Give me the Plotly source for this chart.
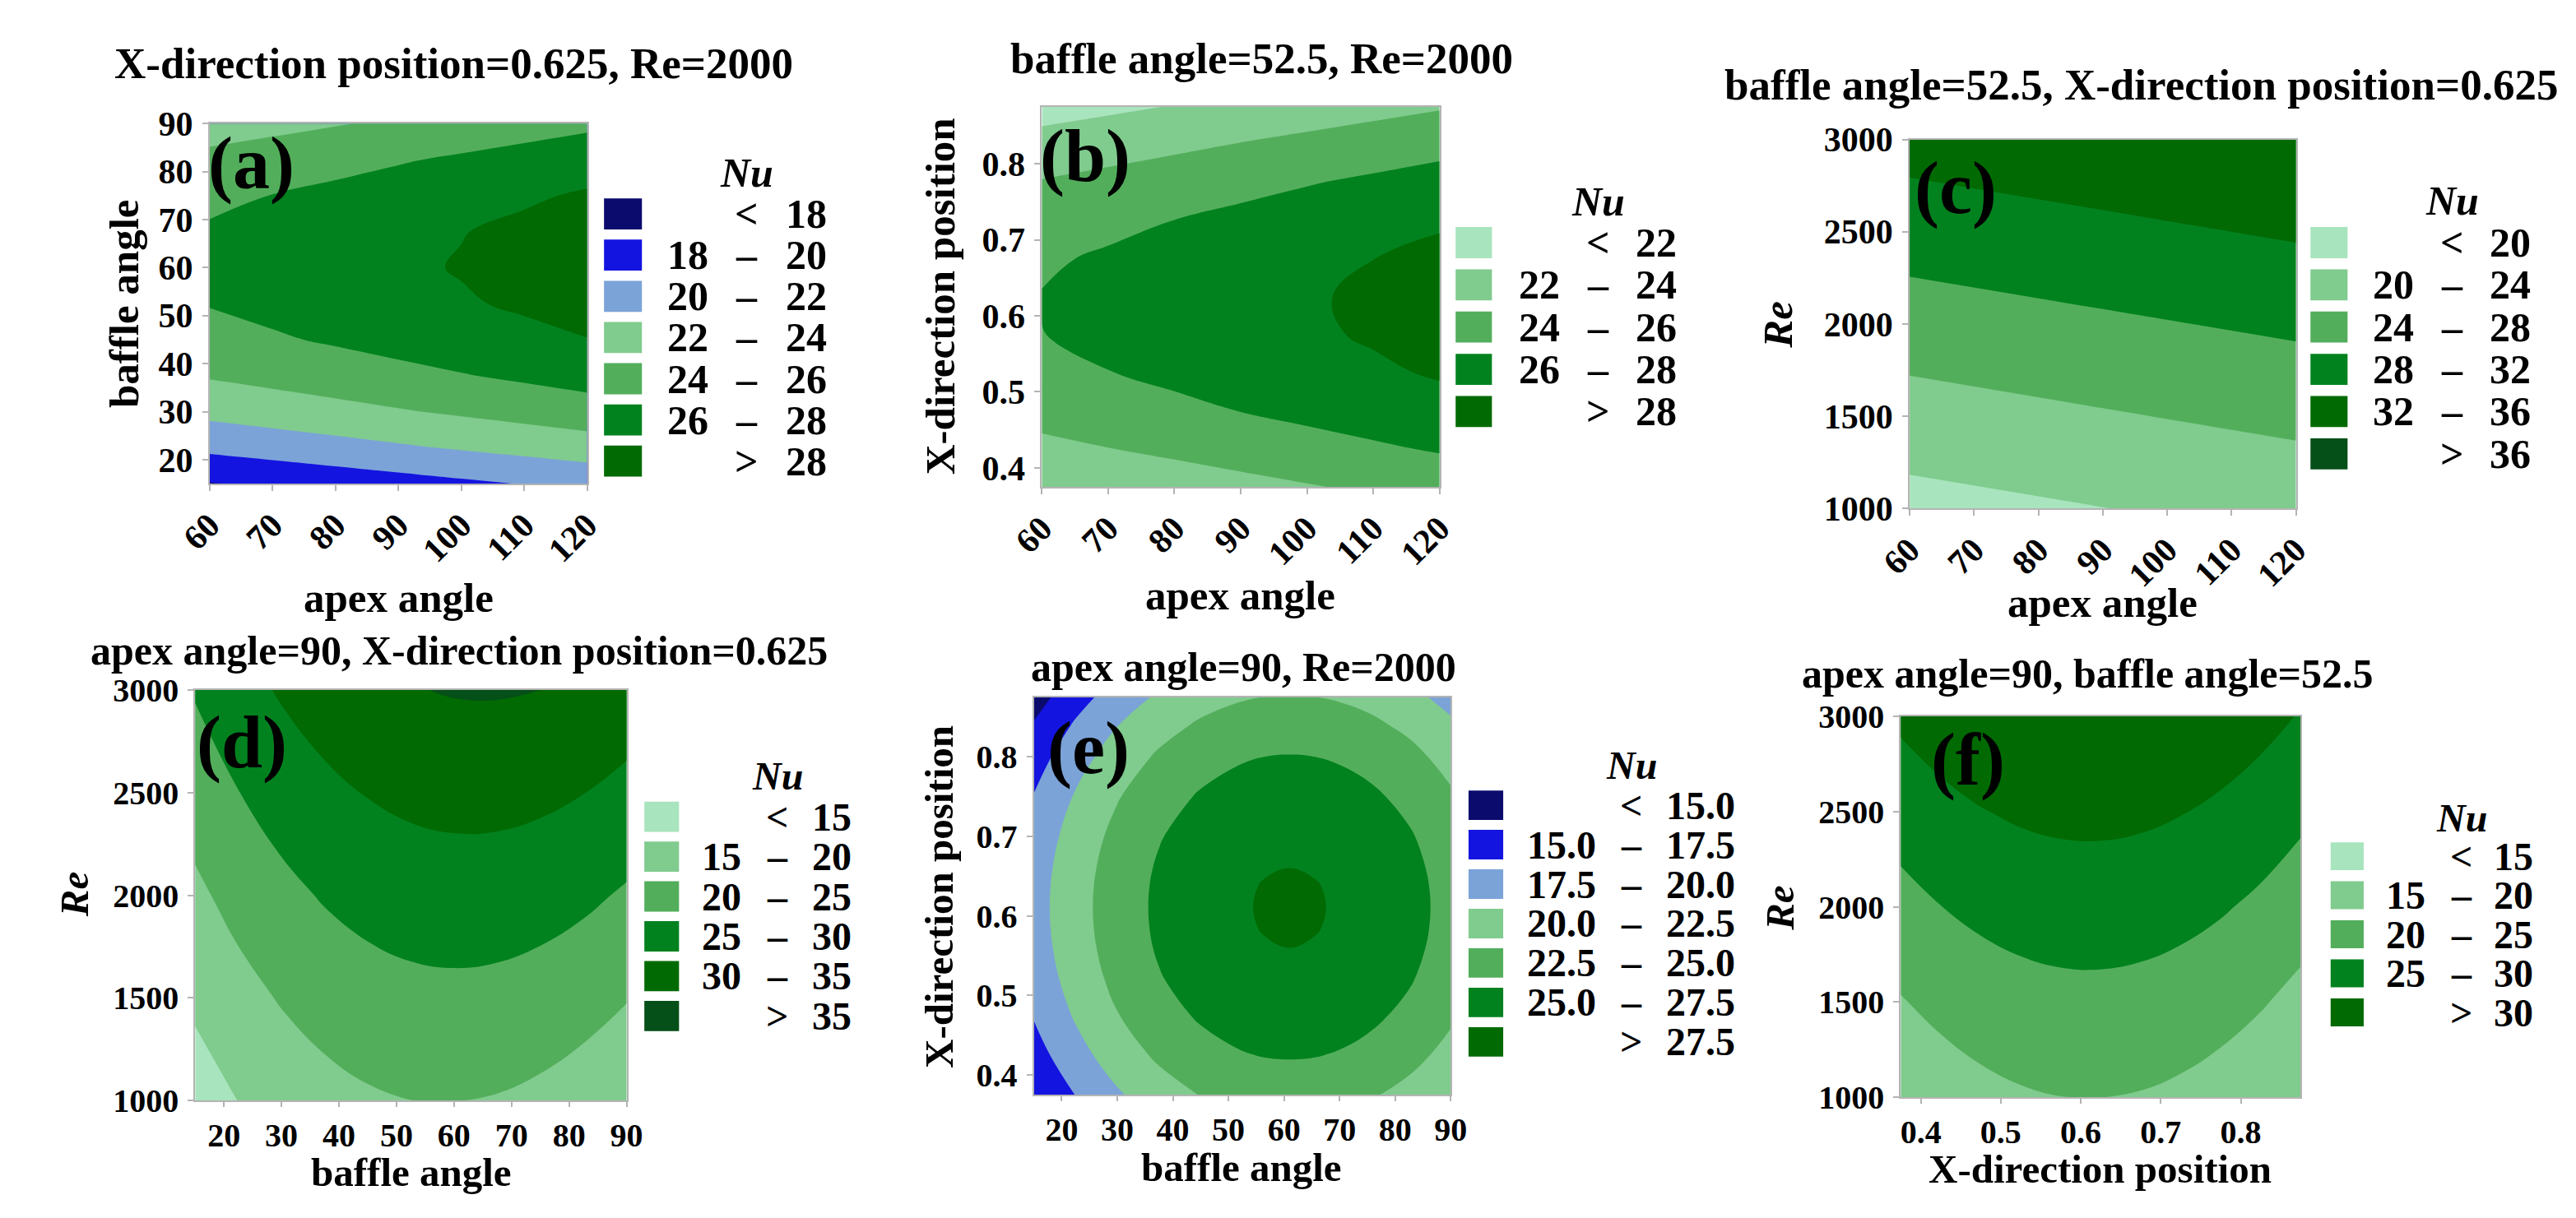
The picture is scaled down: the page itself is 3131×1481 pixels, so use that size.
import plotly.graph_objects as go

W, H = 3131, 1481
SERIF = "Liberation Serif, Times New Roman, serif"

# ---------------- values ----------------
apex_angle = [60, 70, 80, 90, 100, 110, 120]
apex_angle_c = [60, 90, 120]
baffle_angle = [15, 22.5, 30, 37.5, 45, 52.5, 60, 67.5, 75, 82.5, 90]
baffle_angle_e = [15, 22.5, 30, 37.5, 45, 52, 56, 61, 66, 70, 75, 82.5, 90]
x_position = [0.375, 0.425, 0.475, 0.525, 0.575, 0.625, 0.675, 0.725, 0.775, 0.825, 0.875]
x_position_e = [0.375, 0.425, 0.475, 0.52, 0.56, 0.585, 0.611, 0.637, 0.66, 0.70, 0.75, 0.80, 0.84, 0.875]
reynolds = [1000, 1500, 2000, 2500, 3000]

# (a) rows = baffle angle, cols = apex angle
nu_a = [
    [17.92, 18.35, 18.78, 19.22, 19.65, 20.08, 20.52],
    [20.45, 20.88, 21.31, 21.75, 22.18, 22.61, 23.05],
    [22.54, 22.97, 23.40, 23.84, 24.27, 24.70, 25.14],
    [24.17, 24.60, 25.03, 25.47, 25.90, 26.33, 26.77],
    [25.36, 25.79, 26.22, 26.66, 27.09, 27.52, 27.96],
    [26.09, 26.52, 26.95, 27.39, 27.82, 28.25, 28.69],
    [26.38, 26.81, 27.24, 27.68, 28.11, 28.54, 28.98],
    [26.21, 26.64, 27.07, 27.51, 27.94, 28.37, 28.81],
    [25.60, 26.03, 26.46, 26.90, 27.33, 27.76, 28.20],
    [24.53, 24.96, 25.39, 25.83, 26.26, 26.69, 27.13],
    [23.02, 23.45, 23.88, 24.32, 24.75, 25.18, 25.62],
]
# (b) rows = X-direction position, cols = apex angle
nu_b = [
    [22.10, 22.54, 22.98, 23.43, 23.87, 24.31, 24.75],
    [23.52, 23.96, 24.40, 24.85, 25.29, 25.73, 26.17],
    [24.70, 25.14, 25.58, 26.03, 26.47, 26.91, 27.35],
    [25.52, 25.96, 26.40, 26.85, 27.29, 27.73, 28.17],
    [25.97, 26.41, 26.85, 27.30, 27.74, 28.18, 28.62],
    [26.06, 26.50, 26.94, 27.39, 27.83, 28.27, 28.71],
    [25.78, 26.22, 26.66, 27.11, 27.55, 27.99, 28.43],
    [25.14, 25.58, 26.02, 26.47, 26.91, 27.35, 27.79],
    [24.13, 24.57, 25.01, 25.46, 25.90, 26.34, 26.78],
    [22.76, 23.20, 23.64, 24.09, 24.53, 24.97, 25.41],
    [21.20, 21.64, 22.08, 22.53, 22.97, 23.41, 23.85],
]
# (c) rows = Re, cols = apex angle
nu_c = [
    [18.64, 19.95, 21.26],
    [22.37, 23.68, 24.99],
    [26.09, 27.40, 28.71],
    [29.82, 31.13, 32.44],
    [33.54, 34.85, 35.90],
]
# (d) rows = Re, cols = baffle angle
nu_d = [
    [12.70, 15.06, 16.96, 18.42, 19.42, 19.98, 20.08, 19.74, 18.94, 17.70, 16.00],
    [15.89, 18.35, 20.36, 21.92, 23.03, 23.69, 23.90, 23.66, 22.97, 21.83, 20.24],
    [19.05, 21.62, 23.73, 25.40, 26.61, 27.38, 27.69, 27.56, 26.97, 25.94, 24.45],
    [22.24, 24.91, 27.13, 28.90, 30.22, 31.09, 31.51, 31.48, 31.00, 30.07, 28.69],
    [25.40, 28.17, 30.50, 32.37, 33.80, 34.77, 35.30, 35.37, 35.00, 34.17, 32.90],
]
# (e) rows = X-direction position, cols = baffle angle
nu_e = [
    [14.95, 17.55, 19.69, 21.37, 22.58, 23.30, 23.53, 23.63, 23.53, 23.30, 22.83, 21.74, 20.18],
    [16.49, 19.09, 21.23, 22.91, 24.12, 24.84, 25.07, 25.17, 25.07, 24.84, 24.37, 23.28, 21.72],
    [17.66, 20.26, 22.40, 24.08, 25.29, 26.01, 26.24, 26.34, 26.24, 26.01, 25.54, 24.45, 22.89],
    [18.41, 21.01, 23.15, 24.83, 26.04, 26.76, 26.99, 27.09, 26.99, 26.76, 26.29, 25.20, 23.64],
    [18.82, 21.42, 23.56, 25.24, 26.45, 27.17, 27.40, 27.50, 27.40, 27.17, 26.70, 25.61, 24.05],
    [18.96, 21.56, 23.70, 25.38, 26.59, 27.31, 27.54, 27.64, 27.54, 27.31, 26.84, 25.75, 24.19],
    [19.01, 21.61, 23.75, 25.43, 26.64, 27.36, 27.59, 27.69, 27.59, 27.36, 26.89, 25.80, 24.24],
    [18.96, 21.56, 23.70, 25.38, 26.59, 27.31, 27.54, 27.64, 27.54, 27.31, 26.84, 25.75, 24.19],
    [18.83, 21.43, 23.57, 25.25, 26.46, 27.18, 27.41, 27.51, 27.41, 27.18, 26.71, 25.62, 24.06],
    [18.43, 21.03, 23.17, 24.85, 26.06, 26.78, 27.01, 27.11, 27.01, 26.78, 26.31, 25.22, 23.66],
    [17.60, 20.20, 22.34, 24.02, 25.23, 25.95, 26.18, 26.28, 26.18, 25.95, 25.48, 24.39, 22.83],
    [16.41, 19.01, 21.15, 22.83, 24.04, 24.76, 24.99, 25.09, 24.99, 24.76, 24.29, 23.20, 21.64],
    [15.19, 17.79, 19.93, 21.61, 22.82, 23.54, 23.77, 23.87, 23.77, 23.54, 23.07, 21.98, 20.42],
    [13.93, 16.53, 18.67, 20.35, 21.56, 22.28, 22.51, 22.61, 22.51, 22.28, 21.81, 20.72, 19.16],
]
# (f) rows = Re, cols = X-direction position
nu_f = [
    [16.02, 17.55, 18.72, 19.52, 19.96, 20.03, 19.74, 19.08, 18.06, 16.68, 15.10],
    [19.72, 21.25, 22.42, 23.22, 23.66, 23.73, 23.44, 22.78, 21.76, 20.38, 18.62],
    [23.42, 24.95, 26.12, 26.92, 27.36, 27.43, 27.14, 26.48, 25.46, 24.08, 22.32],
    [27.12, 28.65, 29.82, 30.62, 31.06, 31.13, 30.84, 30.18, 29.16, 27.78, 26.02],
    [30.82, 32.35, 33.52, 34.32, 34.76, 34.83, 34.54, 33.88, 32.86, 31.48, 29.72],
]

levels_a = [18, 20, 22, 24, 26, 28]
levels_b = [22, 24, 26, 28]
levels_c = [20, 24, 28, 32, 36]
levels_d = [15, 20, 25, 30, 35]
levels_e = [15.0, 17.5, 20.0, 22.5, 25.0, 27.5]
levels_f = [15, 20, 25, 30]

apex_ticks = [60, 70, 80, 90, 100, 110, 120]
baffle_ticks = [20, 30, 40, 50, 60, 70, 80, 90]
xpos_ticks = [0.4, 0.5, 0.6, 0.7, 0.8]
re_ticks = [1000, 1500, 2000, 2500, 3000]

titles = ["X-direction position=0.625, Re=2000", "baffle angle=52.5, Re=2000",
          "baffle angle=52.5, X-direction position=0.625",
          "apex angle=90, X-direction position=0.625", "apex angle=90, Re=2000",
          "apex angle=90, baffle angle=52.5"]
panel_tags = ["(a)", "(b)", "(c)", "(d)", "(e)", "(f)"]

# ---------------- styles ----------------
NAVY, BLUE, STEEL = "#0b0b6e", "#1414e0", "#7ba3d8"
MINT, LGREEN, MGREEN = "#a8e4bd", "#80cb8e", "#53ae5b"
GREEN, DGREEN, DDGREEN = "#02821f", "#016a02", "#054f18"
blue_green = [NAVY, BLUE, STEEL, LGREEN, MGREEN, GREEN, DGREEN]
greens5 = [MINT, LGREEN, MGREEN, GREEN, DGREEN]
greens6 = [MINT, LGREEN, MGREEN, GREEN, DGREEN, DDGREEN]

panels = [
    dict(x=apex_angle, y=baffle_angle, z=nu_a, lv=levels_a, col=blue_green,
         xt="apex angle", yt="baffle angle", xticks=apex_ticks, yticks=baffle_ticks,
         xr=[60, 120], yr=[15, 90], rot=True, dec=0),
    dict(x=apex_angle, y=x_position, z=nu_b, lv=levels_b, col=greens5,
         xt="apex angle", yt="X-direction position", xticks=apex_ticks, yticks=xpos_ticks,
         xr=[60, 120], yr=[0.375, 0.875], rot=True, dec=0),
    dict(x=apex_angle_c, y=reynolds, z=nu_c, lv=levels_c, col=greens6,
         xt="apex angle", yt="<i>Re</i>", xticks=apex_ticks, yticks=re_ticks,
         xr=[60, 120], yr=[1000, 3000], rot=True, dec=0),
    dict(x=baffle_angle, y=reynolds, z=nu_d, lv=levels_d, col=greens6,
         xt="baffle angle", yt="<i>Re</i>", xticks=baffle_ticks, yticks=re_ticks,
         xr=[15, 90], yr=[1000, 3000], rot=False, dec=0),
    dict(x=baffle_angle_e, y=x_position_e, z=nu_e, lv=levels_e, col=blue_green,
         xt="baffle angle", yt="X-direction position", xticks=baffle_ticks, yticks=xpos_ticks,
         xr=[15, 90], yr=[0.375, 0.875], rot=False, dec=1),
    dict(x=x_position, y=reynolds, z=nu_f, lv=levels_f, col=greens5,
         xt="X-direction position", yt="<i>Re</i>", xticks=xpos_ticks, yticks=re_ticks,
         xr=[0.375, 0.875], yr=[1000, 3000], rot=False, dec=0),
]

# pixel geometry of each panel (plot box, text centres, legend)
geo = [
    dict(box=(210, 124, 678, 576), title=(513, 48, 53), xt=(444, 719, 51), yt=(104, 350, 51),
         tag=(262, 174), tick=42, leg=(699, 218, 51.7, 47, 39, 830, 876, 977, 50, 186)),
    dict(box=(1242, 103, 1735, 580), title=(1514, 42, 53), xt=(1488, 716, 51), yt=(1117, 341, 51),
         tag=(1296, 165), tick=42, leg=(1755, 254, 53, 45, 39, 1886, 1932, 2031, 50, 222)),
    dict(box=(2318, 144, 2797, 607), title=(2605, 75, 53), xt=(2557, 726, 51), yt=(2155, 376, 51),
         tag=(2375, 205), tick=42, leg=(2815, 254, 53, 46, 39, 2945, 2991, 3090, 50, 221)),
    dict(box=(192, 835, 727, 1350), title=(519, 785, 50), xt=(460, 1440, 49), yt=(42, 1092, 49),
         tag=(250, 901), tick=40, leg=(749, 975, 50, 43, 38, 871, 914, 1008, 48, 943)),
    dict(box=(1232, 844, 1749, 1343), title=(1492, 806, 50), xt=(1490, 1434, 49), yt=(1114, 1094, 49),
         tag=(1300, 908), tick=40, leg=(1771, 961, 49.5, 43, 37, 1931, 1973, 2104, 48, 929)),
    dict(box=(2307, 868, 2803, 1346), title=(2538, 814, 50), xt=(2554, 1436, 49), yt=(2157, 1109, 49),
         tag=(2390, 923), tick=40, leg=(2840, 1026, 49, 41, 35, 2960, 3002, 3093, 48, 995)),
]


def px(x):
    return x / W


def py(y):
    return 1 - y / H


def label(v, dec):
    return f"{v:.{dec}f}"


fig = go.Figure()
annotations = []
shapes = []
layout = dict(width=W, height=H, margin=dict(l=0, r=0, t=0, b=0), autosize=False,
              paper_bgcolor="white", plot_bgcolor="white", showlegend=False)

for i, (p, g) in enumerate(zip(panels, geo)):
    n = "" if i == 0 else str(i + 1)
    lv = p["lv"]
    step = lv[1] - lv[0]
    nc = len(lv)
    # one flat colour per band: band k is evaluated at position k/nc of the scale
    cscale = [[k / nc, c] for k, c in enumerate(p["col"])]

    fig.add_trace(go.Contour(
        x=p["x"], y=p["y"], z=p["z"], xaxis="x" + n, yaxis="y" + n,
        autocontour=False,
        contours=dict(start=lv[0], end=lv[-1], size=step, coloring="fill", showlines=False),
        colorscale=cscale, zauto=False, zmin=lv[0] - step / 2, zmax=lv[-1] + step / 2,
        line=dict(width=0, smoothing=1.2), showscale=False, hoverinfo="skip"))

    L, T, R, B = g["box"]
    tickfont = dict(family=SERIF, size=g["tick"], color="black", weight="bold")
    axis_common = dict(showline=True, mirror=True, linecolor="#b4b4b4", linewidth=2,
                       ticks="outside", tickwidth=2, tickcolor="#b4b4b4",
                       showgrid=False, zeroline=False, tickfont=tickfont)
    layout["xaxis" + n] = dict(domain=[px(L), px(R)], range=p["xr"], anchor="y" + n,
                               tickvals=p["xticks"], ticktext=[f"{v:g}" for v in p["xticks"]],
                               tickangle=-45 if p["rot"] else 0, ticklen=7 if p["rot"] else 6,
                               **axis_common)
    layout["yaxis" + n] = dict(domain=[py(B), py(T)], range=p["yr"], anchor="x" + n,
                               tickvals=p["yticks"], ticktext=[f"{v:g}" for v in p["yticks"]],
                               ticklen=7, ticklabelstandoff=3, **axis_common)

    # titles
    tx, ty, ts = g["title"]
    annotations.append(dict(text=titles[i], x=px(tx), y=py(ty), xanchor="center", yanchor="middle",
                            font=dict(family=SERIF, size=ts, color="black", weight="bold")))
    xx, xy, xs = g["xt"]
    annotations.append(dict(text=p["xt"], x=px(xx), y=py(xy), xanchor="center", yanchor="middle",
                            font=dict(family=SERIF, size=xs, color="black", weight="bold")))
    yx, yy, ys = g["yt"]
    annotations.append(dict(text=p["yt"], x=px(yx), y=py(yy), xanchor="center", yanchor="middle",
                            textangle=-90,
                            font=dict(family=SERIF, size=ys, color="black", weight="bold")))
    gx, gy = g["tag"]
    annotations.append(dict(text=panel_tags[i], x=px(gx), y=py(gy), xanchor="center", yanchor="middle",
                            font=dict(family=SERIF, size=90, color="black", weight="bold")))

    # legend: swatches + three text columns (low, sign, high)
    sl, st, pitch, sw, sh, low_r, dash_c, high_r, fs, nu_y = g["leg"]
    lfont = dict(family=SERIF, size=fs, color="black", weight="bold")
    annotations.append(dict(text="Nu", x=px(dash_c), y=py(nu_y), xanchor="center", yanchor="middle",
                            font=dict(family=SERIF, size=fs, color="black", weight="bold", style="italic")))
    for k, c in enumerate(p["col"]):
        top = st + k * pitch
        cy = top + sh / 2
        shapes.append(dict(type="rect", xref="paper", yref="paper", x0=px(sl), x1=px(sl + sw),
                           y0=py(top + sh), y1=py(top), fillcolor=c, line=dict(width=0)))
        if k == 0:
            low, sym, high = "", "<", label(lv[0], p["dec"])
        elif k == nc:
            low, sym, high = "", ">", label(lv[-1], p["dec"])
        else:
            low, sym, high = label(lv[k - 1], p["dec"]), "–", label(lv[k], p["dec"])
        if low:
            annotations.append(dict(text=low, x=px(low_r), y=py(cy), xanchor="right", yanchor="middle",
                                    font=lfont))
        annotations.append(dict(text=sym, x=px(dash_c), y=py(cy), xanchor="center", yanchor="middle",
                                font=lfont))
        annotations.append(dict(text=high, x=px(high_r), y=py(cy), xanchor="right", yanchor="middle",
                                font=lfont))

for a in annotations:
    a.update(xref="paper", yref="paper", showarrow=False)
layout["annotations"] = annotations
layout["shapes"] = shapes
fig.update_layout(**layout)

fig.write_html("out.html")
